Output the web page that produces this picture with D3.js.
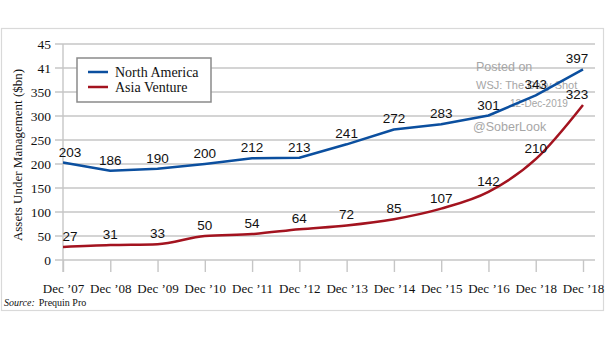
<!DOCTYPE html>
<html><head><meta charset="utf-8">
<script src="https://cdn.jsdelivr.net/npm/d3@7"></script>
<style>
html,body{margin:0;padding:0;background:#fff;}
svg{display:block;}
</style></head>
<body>
<script>
const categories = ["Dec \u201907","Dec \u201908","Dec \u201909","Dec \u201910","Dec \u201911","Dec \u201912","Dec \u201913","Dec \u201914","Dec \u201915","Dec \u201916","Dec \u201918","Dec \u201918"];
const northAmerica = [203,186,190,200,212,213,241,272,283,301,343,397];
const asiaVenture = [27,31,33,50,54,64,72,85,107,142,210,323];
const yTickValues = [0,50,100,150,200,250,300,350,400,450];
const yTickLabels = ["0","50","100","150","200","250","300","350","41","45"];
const seriesNames = ["North America","Asia Venture"];
const watermark = ["Posted on","WSJ: The Daily Shot","12-Dec-2019","@SoberLook"];

const W = 605, H = 341;
const svg = d3.select("body").append("svg").attr("width",W).attr("height",H);
const serif = "'Liberation Serif','Times New Roman',serif";
const sans = "'Liberation Sans',Arial,sans-serif";

// outer frame
svg.append("rect").attr("x",1.5).attr("y",28.5).attr("width",602).attr("height",282)
  .attr("fill","#fff").attr("stroke","#d9d9d9").attr("stroke-width",1.2);

const x = d3.scalePoint().domain(d3.range(categories.length)).range([63,583]);
const y = d3.scaleLinear().domain([0,450]).range([260,44]);

// gridlines
svg.append("g").selectAll("line").data(yTickValues).join("line")
  .attr("x1",55).attr("x2",595).attr("y1",d=>y(d)).attr("y2",d=>y(d))
  .attr("stroke","#c6c6c6").attr("stroke-width",1.4);

// y axis line
svg.append("line").attr("x1",63).attr("x2",63).attr("y1",y(450)).attr("y2",272)
  .attr("stroke","#c6c6c6").attr("stroke-width",1.4);

// y labels
const yAxis = d3.axisLeft(y).tickValues(yTickValues).tickSize(0).tickPadding(12)
  .tickFormat((d,i)=>yTickLabels[i]);
const gy = svg.append("g").attr("transform","translate(63,0)").call(yAxis);
gy.select(".domain").remove();
gy.selectAll("text").attr("font-family",serif).attr("font-size",13.5).attr("fill","#111");

// x axis ticks
const xAxis = d3.axisBottom(x).tickSize(12).tickPadding(12).tickFormat(i=>categories[i]);
const gx = svg.append("g").attr("transform","translate(0,260)").call(xAxis);
gx.select(".domain").remove();
gx.selectAll("line").attr("stroke","#c6c6c6").attr("stroke-width",1.4);
gx.selectAll("text").attr("font-family",serif).attr("font-size",13).attr("fill","#111");

// y title
svg.append("text").attr("transform","translate(22,155) rotate(-90)")
  .attr("text-anchor","middle").attr("font-family",serif).attr("font-size",13)
  .attr("fill","#111").text("Assets Under Management ($bn)");

// source
const src = svg.append("text").attr("x",4).attr("y",306).attr("font-family",serif).attr("font-size",10).attr("fill","#111");
src.append("tspan").attr("font-style","italic").text("Source:");
src.append("tspan").attr("dx",4).text("Prequin Pro");

// watermark
const wm = svg.append("g").attr("fill","#a6a6a6").attr("font-family",sans);
wm.append("text").attr("x",476).attr("y",71).attr("font-size",12.5).text(watermark[0]);
wm.append("text").attr("x",476).attr("y",89).attr("font-size",11).text(watermark[1]);
wm.append("text").attr("x",510).attr("y",107).attr("font-size",10).text(watermark[2]);
wm.append("text").attr("x",473).attr("y",131).attr("font-size",12.5).text(watermark[3]);

// lines
const colors = ["#0b4f9f","#a3131f"];
const lineNA = d3.line().x((d,i)=>x(i)).y(d=>y(d));
const lineAS = d3.line().x((d,i)=>x(i)).y(d=>y(d)).curve(d3.curveMonotoneX);
svg.append("path").datum(northAmerica).attr("d",lineNA).attr("fill","none")
  .attr("stroke",colors[0]).attr("stroke-width",2.5).attr("stroke-linejoin","round");
svg.append("path").datum(asiaVenture).attr("d",lineAS).attr("fill","none")
  .attr("stroke",colors[1]).attr("stroke-width",2.5).attr("stroke-linejoin","round");

// data labels
function lx(i){ const n=categories.length; return x(i) + (i===0?7:(i===n-1?-6:0)); }
[northAmerica, asiaVenture].forEach(arr=>{
  svg.append("g").selectAll("text").data(arr).join("text")
    .attr("x",(d,i)=>lx(i)).attr("y",d=>y(d)-6)
    .attr("text-anchor","middle").attr("font-family",sans).attr("font-size",13.5)
    .attr("fill","#111").text(d=>d);
});

// legend
const lg = svg.append("g");
lg.append("rect").attr("x",77).attr("y",58).attr("width",134).attr("height",44)
  .attr("fill","#fff").attr("stroke","#8a8a8a").attr("stroke-width",1.5);
seriesNames.forEach((s,i)=>{
  const yy = 72 + i*15;
  lg.append("line").attr("x1",88).attr("x2",108).attr("y1",yy).attr("y2",yy)
    .attr("stroke",colors[i]).attr("stroke-width",2.5);
  lg.append("text").attr("x",115).attr("y",yy+4.5).attr("font-family",serif)
    .attr("font-size",14).attr("fill","#111").text(s);
});
</script>
</body></html>
